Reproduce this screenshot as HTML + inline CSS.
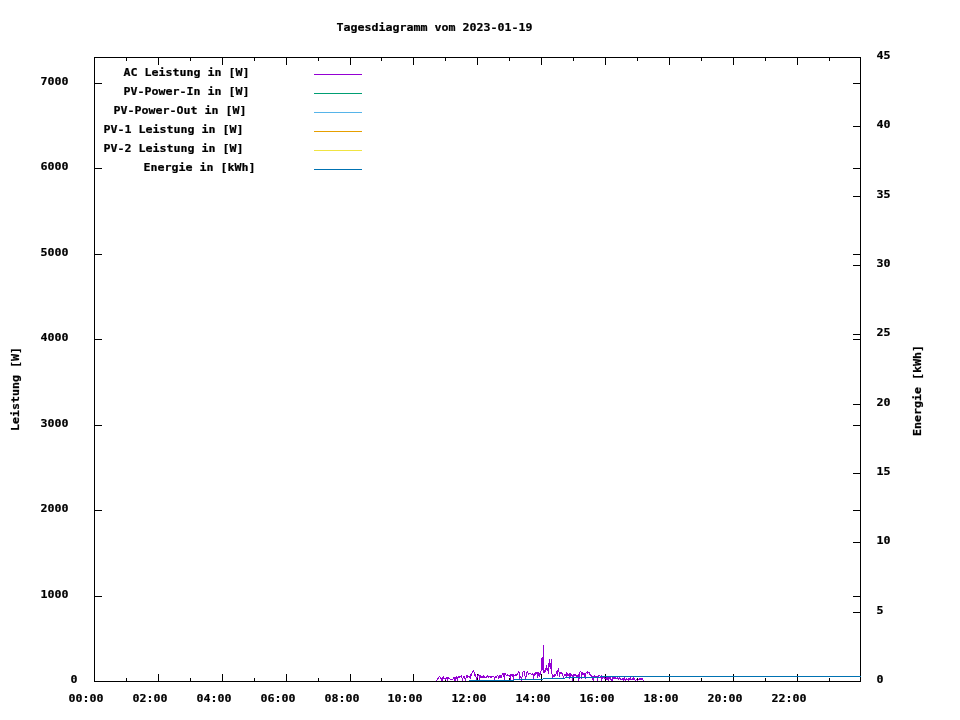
<!DOCTYPE html>
<html lang="de">
<head>
<meta charset="utf-8">
<title>Tagesdiagramm vom 2023-01-19</title>
<style>
html,body{margin:0;padding:0;background:#fff;}
body{width:960px;height:720px;overflow:hidden;}
svg{display:block;}
text{font-family:"DejaVu Sans Mono", "Liberation Mono", monospace;font-weight:bold;font-size:11.0px;fill:#000;stroke:#000;stroke-width:0.2px;white-space:pre;}
</style>
</head>
<body>
<svg width="960" height="720" viewBox="0 0 960 720">
<rect x="0" y="0" width="960" height="720" fill="#fff"/>
<g shape-rendering="crispEdges">
<rect x="94" y="57" width="767" height="1" fill="#000"/>
<rect x="94" y="681" width="767" height="1" fill="#000"/>
<rect x="94" y="57" width="1" height="625" fill="#000"/>
<rect x="860" y="57" width="1" height="625" fill="#000"/>
<rect x="94" y="674" width="1" height="8" fill="#000"/>
<rect x="94" y="57" width="1" height="8" fill="#000"/>
<rect x="126" y="678" width="1" height="4" fill="#000"/>
<rect x="126" y="57" width="1" height="4" fill="#000"/>
<rect x="158" y="674" width="1" height="8" fill="#000"/>
<rect x="158" y="57" width="1" height="8" fill="#000"/>
<rect x="190" y="678" width="1" height="4" fill="#000"/>
<rect x="190" y="57" width="1" height="4" fill="#000"/>
<rect x="222" y="674" width="1" height="8" fill="#000"/>
<rect x="222" y="57" width="1" height="8" fill="#000"/>
<rect x="254" y="678" width="1" height="4" fill="#000"/>
<rect x="254" y="57" width="1" height="4" fill="#000"/>
<rect x="286" y="674" width="1" height="8" fill="#000"/>
<rect x="286" y="57" width="1" height="8" fill="#000"/>
<rect x="318" y="678" width="1" height="4" fill="#000"/>
<rect x="318" y="57" width="1" height="4" fill="#000"/>
<rect x="350" y="674" width="1" height="8" fill="#000"/>
<rect x="350" y="57" width="1" height="8" fill="#000"/>
<rect x="381" y="678" width="1" height="4" fill="#000"/>
<rect x="381" y="57" width="1" height="4" fill="#000"/>
<rect x="413" y="674" width="1" height="8" fill="#000"/>
<rect x="413" y="57" width="1" height="8" fill="#000"/>
<rect x="445" y="678" width="1" height="4" fill="#000"/>
<rect x="445" y="57" width="1" height="4" fill="#000"/>
<rect x="477" y="674" width="1" height="8" fill="#000"/>
<rect x="477" y="57" width="1" height="8" fill="#000"/>
<rect x="509" y="678" width="1" height="4" fill="#000"/>
<rect x="509" y="57" width="1" height="4" fill="#000"/>
<rect x="541" y="674" width="1" height="8" fill="#000"/>
<rect x="541" y="57" width="1" height="8" fill="#000"/>
<rect x="573" y="678" width="1" height="4" fill="#000"/>
<rect x="573" y="57" width="1" height="4" fill="#000"/>
<rect x="605" y="674" width="1" height="8" fill="#000"/>
<rect x="605" y="57" width="1" height="8" fill="#000"/>
<rect x="637" y="678" width="1" height="4" fill="#000"/>
<rect x="637" y="57" width="1" height="4" fill="#000"/>
<rect x="669" y="674" width="1" height="8" fill="#000"/>
<rect x="669" y="57" width="1" height="8" fill="#000"/>
<rect x="701" y="678" width="1" height="4" fill="#000"/>
<rect x="701" y="57" width="1" height="4" fill="#000"/>
<rect x="733" y="674" width="1" height="8" fill="#000"/>
<rect x="733" y="57" width="1" height="8" fill="#000"/>
<rect x="765" y="678" width="1" height="4" fill="#000"/>
<rect x="765" y="57" width="1" height="4" fill="#000"/>
<rect x="797" y="674" width="1" height="8" fill="#000"/>
<rect x="797" y="57" width="1" height="8" fill="#000"/>
<rect x="829" y="678" width="1" height="4" fill="#000"/>
<rect x="829" y="57" width="1" height="4" fill="#000"/>
<rect x="94" y="681" width="8" height="1" fill="#000"/>
<rect x="853" y="681" width="8" height="1" fill="#000"/>
<rect x="94" y="596" width="8" height="1" fill="#000"/>
<rect x="853" y="596" width="8" height="1" fill="#000"/>
<rect x="94" y="510" width="8" height="1" fill="#000"/>
<rect x="853" y="510" width="8" height="1" fill="#000"/>
<rect x="94" y="425" width="8" height="1" fill="#000"/>
<rect x="853" y="425" width="8" height="1" fill="#000"/>
<rect x="94" y="339" width="8" height="1" fill="#000"/>
<rect x="853" y="339" width="8" height="1" fill="#000"/>
<rect x="94" y="254" width="8" height="1" fill="#000"/>
<rect x="853" y="254" width="8" height="1" fill="#000"/>
<rect x="94" y="168" width="8" height="1" fill="#000"/>
<rect x="853" y="168" width="8" height="1" fill="#000"/>
<rect x="94" y="83" width="8" height="1" fill="#000"/>
<rect x="853" y="83" width="8" height="1" fill="#000"/>
<rect x="853" y="681" width="8" height="1" fill="#000"/>
<rect x="853" y="612" width="8" height="1" fill="#000"/>
<rect x="853" y="542" width="8" height="1" fill="#000"/>
<rect x="853" y="473" width="8" height="1" fill="#000"/>
<rect x="853" y="404" width="8" height="1" fill="#000"/>
<rect x="853" y="334" width="8" height="1" fill="#000"/>
<rect x="853" y="265" width="8" height="1" fill="#000"/>
<rect x="853" y="196" width="8" height="1" fill="#000"/>
<rect x="853" y="126" width="8" height="1" fill="#000"/>
<rect x="853" y="57" width="8" height="1" fill="#000"/>
<rect x="314" y="74" width="48" height="1" fill="#9400d3"/>
<rect x="314" y="93" width="48" height="1" fill="#009e73"/>
<rect x="314" y="112" width="48" height="1" fill="#56b4e9"/>
<rect x="314" y="131" width="48" height="1" fill="#e69f00"/>
<rect x="314" y="150" width="48" height="1" fill="#f0e442"/>
<rect x="314" y="169" width="48" height="1" fill="#0072b2"/>
<path d="M436 680h1v1h-1zM437 678h1v2h-1zM438 677h1v2h-1zM439 676h1v1h-1zM440 677h1v2h-1zM441 678h1v3h-1zM442 677h1v4h-1zM443 676h1v3h-1zM444 678h1v1h-1zM445 678h1v2h-1zM446 677h1v2h-1zM447 677h1v4h-1zM448 677h1v2h-1zM449 678h1v1h-1zM450 679h1v1h-1zM451 679h1v1h-1zM452 679h1v1h-1zM453 677h1v2h-1zM454 677h1v4h-1zM455 677h1v4h-1zM456 676h1v3h-1zM457 677h1v4h-1zM458 676h1v2h-1zM459 676h1v2h-1zM460 676h1v1h-1zM461 675h1v3h-1zM462 678h1v3h-1zM463 676h1v2h-1zM464 676h1v3h-1zM465 678h1v3h-1zM466 675h1v3h-1zM467 675h1v3h-1zM468 676h1v1h-1zM469 676h1v2h-1zM470 674h1v5h-1zM471 673h1v3h-1zM472 671h1v2h-1zM473 670h1v2h-1zM474 672h1v4h-1zM475 674h1v3h-1zM476 677h1v3h-1zM477 675h1v3h-1zM478 674h1v2h-1zM479 675h1v5h-1zM480 675h1v3h-1zM481 676h1v2h-1zM482 676h1v2h-1zM483 675h1v3h-1zM484 676h1v2h-1zM485 677h1v1h-1zM486 676h1v2h-1zM487 675h1v2h-1zM488 676h1v2h-1zM489 676h1v1h-1zM490 676h1v2h-1zM491 676h1v2h-1zM492 676h1v1h-1zM493 676h1v1h-1zM494 677h1v3h-1zM495 676h1v2h-1zM496 676h1v2h-1zM497 675h1v1h-1zM498 676h1v3h-1zM499 675h1v3h-1zM500 675h1v3h-1zM501 675h1v3h-1zM502 673h1v2h-1zM503 673h1v4h-1zM504 673h1v7h-1zM505 673h1v2h-1zM506 675h1v1h-1zM507 674h1v2h-1zM508 675h1v1h-1zM509 675h1v2h-1zM510 674h1v6h-1zM511 674h1v2h-1zM512 674h1v3h-1zM513 674h1v6h-1zM514 675h1v1h-1zM515 674h1v2h-1zM516 674h1v2h-1zM517 673h1v2h-1zM518 671h1v2h-1zM519 672h1v7h-1zM520 676h1v2h-1zM521 677h1v4h-1zM522 672h1v5h-1zM523 671h1v1h-1zM524 671h1v5h-1zM525 676h1v3h-1zM526 672h1v5h-1zM527 671h1v2h-1zM528 673h1v2h-1zM529 673h1v1h-1zM530 673h1v1h-1zM531 674h1v1h-1zM532 673h1v2h-1zM533 674h1v5h-1zM534 673h1v3h-1zM535 672h1v3h-1zM536 672h1v2h-1zM537 672h1v6h-1zM538 672h1v4h-1zM539 673h1v4h-1zM540 671h1v4h-1zM541 658h1v13h-1zM542 657h1v13h-1zM543 645h1v28h-1zM544 670h1v3h-1zM545 668h1v4h-1zM546 665h1v5h-1zM547 668h1v3h-1zM548 663h1v11h-1zM549 659h1v8h-1zM550 663h1v6h-1zM551 659h1v15h-1zM552 674h1v4h-1zM553 675h1v2h-1zM554 674h1v3h-1zM555 674h1v2h-1zM556 671h1v3h-1zM557 670h1v6h-1zM558 668h1v4h-1zM559 672h1v5h-1zM560 672h1v2h-1zM561 672h1v2h-1zM562 673h1v3h-1zM563 676h1v2h-1zM564 674h1v2h-1zM565 674h1v2h-1zM566 672h1v5h-1zM567 673h1v3h-1zM568 674h1v2h-1zM569 673h1v6h-1zM570 673h1v4h-1zM571 674h1v2h-1zM572 675h1v6h-1zM573 674h1v3h-1zM574 674h1v2h-1zM575 674h1v2h-1zM576 675h1v2h-1zM577 675h1v2h-1zM578 674h1v7h-1zM579 672h1v7h-1zM580 671h1v1h-1zM581 672h1v7h-1zM582 672h1v3h-1zM583 673h1v2h-1zM584 673h1v4h-1zM585 673h1v6h-1zM586 672h1v1h-1zM587 671h1v3h-1zM588 672h1v1h-1zM589 672h1v3h-1zM590 674h1v2h-1zM591 675h1v2h-1zM592 676h1v4h-1zM593 676h1v5h-1zM594 675h1v2h-1zM595 676h1v1h-1zM596 676h1v1h-1zM597 676h1v5h-1zM598 675h1v2h-1zM599 675h1v1h-1zM600 676h1v2h-1zM601 675h1v6h-1zM602 677h1v2h-1zM603 677h1v1h-1zM604 677h1v2h-1zM605 678h1v1h-1zM606 677h1v3h-1zM607 677h1v3h-1zM608 677h1v4h-1zM609 677h1v2h-1zM610 677h1v3h-1zM611 679h1v2h-1zM612 677h1v4h-1zM613 677h1v2h-1zM614 677h1v2h-1zM615 677h1v2h-1zM616 678h1v1h-1zM617 677h1v2h-1zM618 678h1v2h-1zM619 677h1v2h-1zM620 678h1v2h-1zM621 679h1v1h-1zM622 678h1v2h-1zM623 678h1v3h-1zM624 677h1v3h-1zM625 679h1v2h-1zM626 678h1v2h-1zM627 679h1v1h-1zM628 678h1v3h-1zM629 678h1v2h-1zM630 677h1v3h-1zM631 679h1v1h-1zM632 678h1v2h-1zM633 677h1v3h-1zM634 678h1v2h-1zM635 680h1v1h-1zM636 679h1v1h-1zM637 680h1v1h-1zM638 679h1v1h-1zM639 678h1v2h-1zM640 678h1v2h-1zM641 678h1v2h-1zM642 678h1v2h-1zM643 680h1v1h-1z" fill="#9400d3"/>
<rect x="469" y="680" width="45" height="1" fill="#0072b2"/>
<rect x="514" y="679" width="29" height="1" fill="#0072b2"/>
<rect x="543" y="678" width="22" height="1" fill="#0072b2"/>
<rect x="565" y="677" width="35" height="1" fill="#0072b2"/>
<rect x="600" y="676" width="261" height="1" fill="#0072b2"/>
</g>
<g>
<text x="336.5" y="31" textLength="196" lengthAdjust="spacingAndGlyphs">Tagesdiagramm vom 2023-01-19</text>
<text x="123.5" y="76" textLength="126" lengthAdjust="spacingAndGlyphs">AC Leistung in [W]</text>
<text x="123.5" y="95" textLength="126" lengthAdjust="spacingAndGlyphs">PV-Power-In in [W]</text>
<text x="113.5" y="114" textLength="133" lengthAdjust="spacingAndGlyphs">PV-Power-Out in [W]</text>
<text x="103.5" y="133" textLength="140" lengthAdjust="spacingAndGlyphs">PV-1 Leistung in [W]</text>
<text x="103.5" y="152" textLength="140" lengthAdjust="spacingAndGlyphs">PV-2 Leistung in [W]</text>
<text x="143.5" y="171" textLength="112" lengthAdjust="spacingAndGlyphs">Energie in [kWh]</text>
<text x="70.5" y="683" textLength="7" lengthAdjust="spacingAndGlyphs">0</text>
<text x="40.5" y="598" textLength="28" lengthAdjust="spacingAndGlyphs">1000</text>
<text x="40.5" y="512" textLength="28" lengthAdjust="spacingAndGlyphs">2000</text>
<text x="40.5" y="427" textLength="28" lengthAdjust="spacingAndGlyphs">3000</text>
<text x="40.5" y="341" textLength="28" lengthAdjust="spacingAndGlyphs">4000</text>
<text x="40.5" y="256" textLength="28" lengthAdjust="spacingAndGlyphs">5000</text>
<text x="40.5" y="170" textLength="28" lengthAdjust="spacingAndGlyphs">6000</text>
<text x="40.5" y="85" textLength="28" lengthAdjust="spacingAndGlyphs">7000</text>
<text x="876.5" y="683" textLength="7" lengthAdjust="spacingAndGlyphs">0</text>
<text x="876.5" y="614" textLength="7" lengthAdjust="spacingAndGlyphs">5</text>
<text x="876.5" y="544" textLength="14" lengthAdjust="spacingAndGlyphs">10</text>
<text x="876.5" y="475" textLength="14" lengthAdjust="spacingAndGlyphs">15</text>
<text x="876.5" y="406" textLength="14" lengthAdjust="spacingAndGlyphs">20</text>
<text x="876.5" y="336" textLength="14" lengthAdjust="spacingAndGlyphs">25</text>
<text x="876.5" y="267" textLength="14" lengthAdjust="spacingAndGlyphs">30</text>
<text x="876.5" y="198" textLength="14" lengthAdjust="spacingAndGlyphs">35</text>
<text x="876.5" y="128" textLength="14" lengthAdjust="spacingAndGlyphs">40</text>
<text x="876.5" y="59" textLength="14" lengthAdjust="spacingAndGlyphs">45</text>
<text x="68.5" y="702" textLength="35" lengthAdjust="spacingAndGlyphs">00:00</text>
<text x="132.5" y="702" textLength="35" lengthAdjust="spacingAndGlyphs">02:00</text>
<text x="196.5" y="702" textLength="35" lengthAdjust="spacingAndGlyphs">04:00</text>
<text x="260.5" y="702" textLength="35" lengthAdjust="spacingAndGlyphs">06:00</text>
<text x="324.5" y="702" textLength="35" lengthAdjust="spacingAndGlyphs">08:00</text>
<text x="387.5" y="702" textLength="35" lengthAdjust="spacingAndGlyphs">10:00</text>
<text x="451.5" y="702" textLength="35" lengthAdjust="spacingAndGlyphs">12:00</text>
<text x="515.5" y="702" textLength="35" lengthAdjust="spacingAndGlyphs">14:00</text>
<text x="579.5" y="702" textLength="35" lengthAdjust="spacingAndGlyphs">16:00</text>
<text x="643.5" y="702" textLength="35" lengthAdjust="spacingAndGlyphs">18:00</text>
<text x="707.5" y="702" textLength="35" lengthAdjust="spacingAndGlyphs">20:00</text>
<text x="771.5" y="702" textLength="35" lengthAdjust="spacingAndGlyphs">22:00</text>
<text x="19" y="431" textLength="84" lengthAdjust="spacingAndGlyphs" transform="rotate(-90 19 431)">Leistung [W]</text>
<text x="921" y="436" textLength="91" lengthAdjust="spacingAndGlyphs" transform="rotate(-90 921 436)">Energie [kWh]</text>
</g>
</svg>
</body>
</html>
